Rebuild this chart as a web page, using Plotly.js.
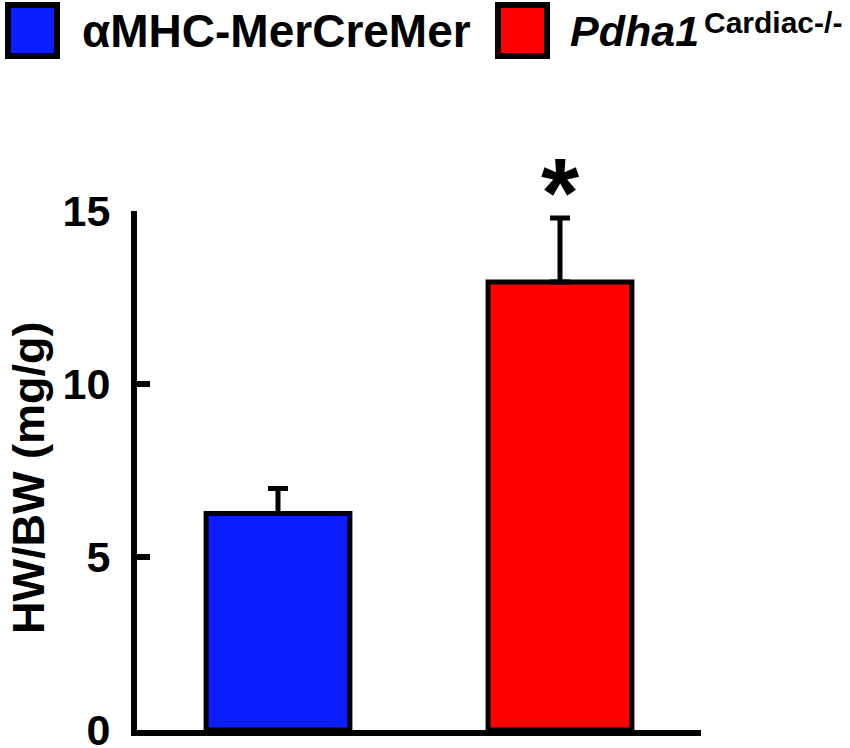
<!DOCTYPE html>
<html>
<head>
<meta charset="utf-8">
<script src="https://cdn.plot.ly/plotly-3.0.1.min.js"></script>
<style>html,body{margin:0;padding:0;background:#fff;}#chart{width:850px;height:748px;}</style>
</head>
<body>
<div id="chart"></div>
<script>
// ---- data ----
var groups = ["αMHC-MerCreMer", "Pdha1 Cardiac-/-"];
var hwbw = [6.26, 12.95];
var sem = [0.72, 1.85];
var barColors = ["#0a1eff", "#ff0000"];
var yTicks = [0, 5, 10, 15];
var sigMarks = ["", "*"];

// ---- layout helpers ----
var L = 137, R = 701, T = 211, B = 730, W = 850, H = 748;
function px(x) { return (x - L) / (R - L); }
function py(y) { return (B - y) / (B - T); }

var FONT = "Liberation Sans, Arial, sans-serif";

var trace = {
  type: "bar",
  x: [0, 1],
  y: hwbw,
  width: 0.51,
  marker: { color: barColors, line: { color: "#000", width: 5 } },
  error_y: { type: "data", array: sem, arrayminus: [0, 0], symmetric: false,
             color: "#000", thickness: 5, width: 10 },
  showlegend: false,
  hoverinfo: "none"
};

var annotations = [];
sigMarks.forEach(function (m, i) {
  if (!m) return;
  annotations.push({ x: i, y: hwbw[i] + sem[i], xref: "x", yref: "y", text: m,
    showarrow: false, xanchor: "center", yanchor: "bottom", yshift: -32,
    font: { family: FONT, size: 98, color: "#000", weight: "bold" } });
});

// y axis title
annotations.push({ x: px(28), y: py(478), xref: "paper", yref: "paper",
  text: "HW/BW (mg/g)", textangle: -90, showarrow: false,
  xanchor: "center", yanchor: "middle",
  font: { family: FONT, size: 45, color: "#000", weight: "bold" } });

// legend
var shapes = [
  { type: "rect", xref: "paper", yref: "paper", x0: px(8), x1: px(57), y0: py(56), y1: py(5),
    fillcolor: barColors[0], line: { color: "#000", width: 6 } },
  { type: "rect", xref: "paper", yref: "paper", x0: px(498), x1: px(547), y0: py(56), y1: py(5),
    fillcolor: barColors[1], line: { color: "#000", width: 6 } }
];
annotations.push({ x: px(80), y: py(31), xref: "paper", yref: "paper",
  text: groups[0], showarrow: false, xanchor: "left", yanchor: "middle",
  font: { family: FONT, size: 46, color: "#000", weight: "bold" } });
annotations.push({ x: px(568), y: py(31), xref: "paper", yref: "paper",
  text: "<i>Pdha1</i>", showarrow: false, xanchor: "left", yanchor: "middle",
  font: { family: FONT, size: 43, color: "#000", weight: "bold" } });
annotations.push({ x: px(702), y: py(22), xref: "paper", yref: "paper",
  text: "Cardiac-/-", showarrow: false, xanchor: "left", yanchor: "middle",
  font: { family: FONT, size: 30, color: "#000", weight: "bold" } });

var layout = {
  width: W, height: H,
  margin: { l: L, r: W - R, t: T, b: H - B, pad: 0 },
  paper_bgcolor: "#fff", plot_bgcolor: "#fff",
  showlegend: false,
  xaxis: { range: [-0.5, 1.5], showline: true, linecolor: "#000", linewidth: 6,
           showticklabels: false, ticks: "", showgrid: false, zeroline: false, fixedrange: true },
  yaxis: { range: [0, 15], tickvals: yTicks, ticktext: yTicks.map(String),
           showline: true, linecolor: "#000", linewidth: 6,
           ticks: "inside", ticklen: 13, tickwidth: 6, tickcolor: "#000",
           ticklabelstandoff: 12, ticklabeloverflow: "allow",
           tickfont: { family: FONT, size: 43, color: "#000", weight: "bold" },
           showgrid: false, zeroline: false, fixedrange: true },
  shapes: shapes,
  annotations: annotations
};

Plotly.newPlot("chart", [trace], layout, { displayModeBar: false, staticPlot: true });
</script>
</body>
</html>
